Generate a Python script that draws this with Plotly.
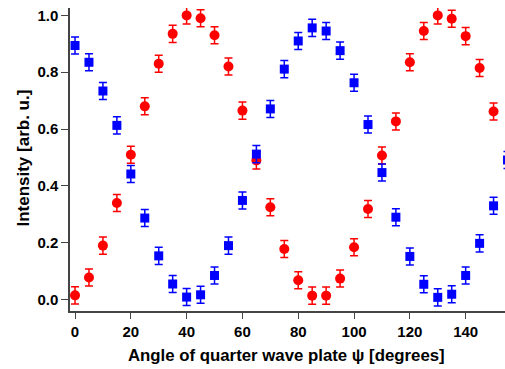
import plotly.graph_objects as go

angles = list(range(0, 156, 5))
red_vals = [0.015, 0.078, 0.19, 0.34, 0.51, 0.68, 0.83, 0.935, 1.0, 0.99, 0.93, 0.82,
            0.665, 0.49, 0.325, 0.178, 0.068, 0.014, 0.014, 0.074, 0.184, 0.319, 0.507,
            0.627, 0.835, 0.945, 1.0, 0.988, 0.927, 0.815, 0.662]
blue_vals = [0.894, 0.835, 0.734, 0.613, 0.442, 0.287, 0.154, 0.055, 0.009, 0.017, 0.085,
             0.19, 0.349, 0.512, 0.671, 0.811, 0.91, 0.956, 0.945, 0.876, 0.763, 0.616,
             0.447, 0.29, 0.152, 0.054, 0.008, 0.019, 0.085, 0.198, 0.33, 0.491]
err = 0.03

x_ticks = [0, 20, 40, 60, 80, 100, 120, 140]
y_ticks = [0.0, 0.2, 0.4, 0.6, 0.8, 1.0]
x_title = "Angle of quarter wave plate ψ [degrees]"
y_title = "Intensity [arb. u.]"

FAM = "Liberation Sans, Arial, sans-serif"

fig = go.Figure()
fig.add_trace(go.Scatter(
    x=angles[:len(red_vals)], y=red_vals, mode="markers",
    marker=dict(symbol="circle", size=10, color="#ff0000"),
    error_y=dict(type="constant", value=err, color="#ff0000", thickness=1.5, width=4),
    showlegend=False))
fig.add_trace(go.Scatter(
    x=angles[:len(blue_vals)], y=blue_vals, mode="markers",
    marker=dict(symbol="square", size=9, color="#0000ff"),
    error_y=dict(type="constant", value=err, color="#0000ff", thickness=1.5, width=4),
    showlegend=False))

tick_font = dict(family=FAM, size=15, color="black", weight="bold")
title_font = dict(family=FAM, size=16.8, color="black", weight="bold")

fig.update_layout(
    width=505, height=369,
    margin=dict(l=70, r=0, t=8, b=58),
    paper_bgcolor="white", plot_bgcolor="white",
    font=dict(family=FAM, color="black"),
    xaxis=dict(range=[-1.8, 154.1], tickvals=x_ticks, ticktext=[str(v) for v in x_ticks],
               showgrid=False, zeroline=False, showline=True, linecolor="#444", linewidth=1.5,
               ticks="outside", ticklen=6, tickwidth=1.2, tickcolor="#444",
               tickfont=tick_font, automargin=False),
    yaxis=dict(range=[-0.04, 1.026], tickvals=y_ticks, ticktext=[f"{v:.1f}" for v in y_ticks],
               showgrid=False, zeroline=False, showline=True, linecolor="#444", linewidth=1.5,
               ticks="outside", ticklen=7, tickwidth=1.2, tickcolor="#444",
               tickfont=tick_font, automargin=False),
    annotations=[
        dict(text=x_title, xref="paper", yref="paper", x=0.498, y=0, xanchor="center",
             yanchor="middle", yshift=-44.5, showarrow=False, font=title_font),
        dict(text=y_title, xref="paper", yref="paper", x=0, y=0.503, xanchor="center",
             yanchor="middle", xshift=-46, textangle=-90, showarrow=False,
             font=dict(family=FAM, size=17, color="black", weight="bold")),
    ],
)

fig.write_html("out.html", config={"displayModeBar": False},
               post_script="document.body.style.margin='0';document.body.style.padding='0';")
